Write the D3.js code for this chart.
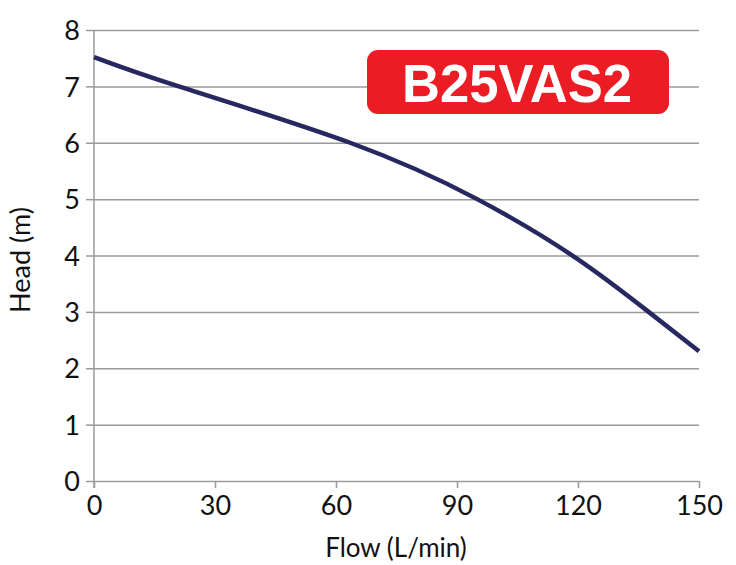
<!DOCTYPE html>
<html>
<head>
<meta charset="utf-8">
<script src="https://cdn.jsdelivr.net/npm/d3@7"></script>
<style>
  html, body { margin: 0; padding: 0; background: #fff; }
  svg { display: block; }
</style>
</head>
<body>
<svg id="chart" width="736" height="565"></svg>
<script>
const flow = [0, 21, 63.5, 95, 119, 137.5, 150];
const head = [7.52, 7.0, 6.0, 5.0, 3.98, 3.0, 2.3];
const xTicks = [0, 30, 60, 90, 120, 150];
const yTicks = [0, 1, 2, 3, 4, 5, 6, 7, 8];
const modelLabel = "B25VAS2";
const xTitle = "Flow (L/min)";
const yTitle = "Head (m)";

const svg = d3.select("#chart");
const font = "Lato, 'Noto Sans', sans-serif";
const x = d3.scaleLinear().domain([0, 150]).range([94, 699]);
const y = d3.scaleLinear().domain([0, 8]).range([481, 30]);
const gridColor = "#9a9a9a";

// horizontal gridlines with left tick stubs
const gy = svg.append("g")
  .attr("transform", `translate(${x(0)},0)`)
  .call(d3.axisLeft(y).tickValues(yTicks).tickSize(8).tickPadding(6)
    .tickFormat(d3.format("d")));
gy.select(".domain").remove();
gy.selectAll(".tick line").attr("stroke", gridColor).attr("stroke-width", 1.5);
gy.selectAll(".tick").append("line")
  .attr("x1", 0).attr("x2", x(150) - x(0))
  .attr("stroke", gridColor).attr("stroke-width", 1.5);
gy.selectAll(".tick text").attr("font-family", font).attr("font-size", 27)
  .attr("fill", "#111").attr("dy", "0.36em");

// x axis
const gx = svg.append("g")
  .attr("transform", `translate(0,${y(0)})`)
  .call(d3.axisBottom(x).tickValues(xTicks).tickSize(7).tickPadding(8)
    .tickFormat(d3.format("d")));
gx.select(".domain").remove();
gx.selectAll(".tick line").attr("stroke", gridColor).attr("stroke-width", 1.5);
gx.selectAll(".tick text").attr("font-family", font).attr("font-size", 27)
  .attr("fill", "#111");

// y axis line
svg.append("line")
  .attr("x1", x(0)).attr("x2", x(0))
  .attr("y1", y(8)).attr("y2", y(0) + 7)
  .attr("stroke", gridColor).attr("stroke-width", 1.5);

// curve
const pts = flow.map((f, i) => [f, head[i]]);
svg.append("path")
  .datum(pts)
  .attr("fill", "none")
  .attr("stroke", "#27285f")
  .attr("stroke-width", 4.5)
  .attr("d", d3.line().x(d => x(d[0])).y(d => y(d[1])).curve(d3.curveNatural));

// label box
svg.append("rect")
  .attr("x", 367).attr("y", 50).attr("width", 302).attr("height", 64)
  .attr("rx", 11).attr("fill", "#ec1c24");
svg.append("text")
  .attr("x", 517).attr("y", 102)
  .attr("text-anchor", "middle")
  .attr("font-family", "'Liberation Sans', Arial, sans-serif")
  .attr("font-weight", "bold")
  .attr("font-size", 54)
  .attr("textLength", 230)
  .attr("lengthAdjust", "spacingAndGlyphs")
  .attr("fill", "#fff")
  .text(modelLabel);

// axis titles
svg.append("text")
  .attr("x", 396).attr("y", 557)
  .attr("text-anchor", "middle")
  .attr("font-family", font).attr("font-size", 26).attr("fill", "#111")
  .text(xTitle);
svg.append("text")
  .attr("transform", "translate(30,260) rotate(-90)")
  .attr("text-anchor", "middle")
  .attr("font-family", font).attr("font-size", 27).attr("fill", "#111")
  .text(yTitle);
</script>
</body>
</html>
